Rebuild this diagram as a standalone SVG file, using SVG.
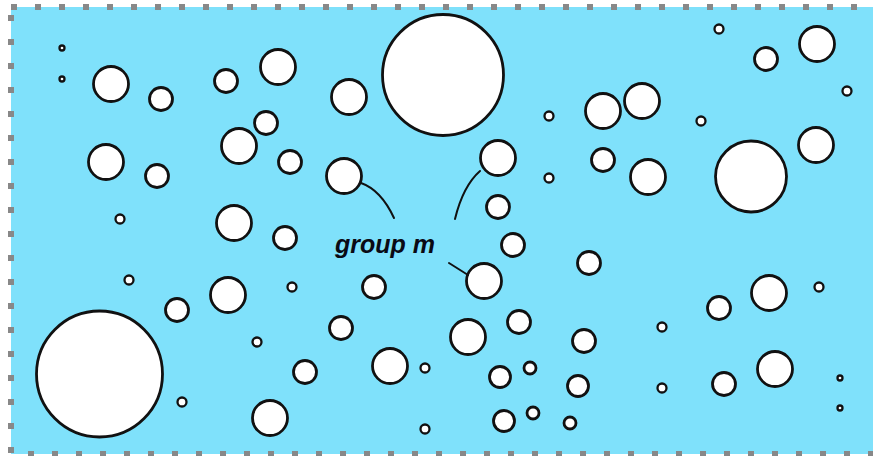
<svg xmlns="http://www.w3.org/2000/svg" width="873" height="456" viewBox="0 0 873 456">
<style>
.bg{fill:#7fe1fb;stroke:#888;stroke-width:6;stroke-dasharray:6 18}
circle{fill:#fff;stroke:#111;stroke-width:2.8}
circle.t{stroke-width:2.3}
.lead{fill:none;stroke:#111;stroke-width:2;stroke-linecap:round}
.lbl{font-family:"Liberation Sans",Arial,sans-serif;font-weight:bold;font-style:italic;font-size:25px;fill:#0a0a14}
</style>
<rect width="873" height="456" fill="#fff"/>
<rect class="bg" x="11" y="7" width="880" height="447"/>
<g id="pores">
<circle class="t" cx="62" cy="48" r="2.5"/>
<circle class="t" cx="62" cy="79" r="2.5"/>
<circle cx="111" cy="84" r="17.5"/>
<circle cx="161" cy="99" r="11.5"/>
<circle cx="106" cy="162" r="17.5"/>
<circle cx="157" cy="176" r="11.5"/>
<circle class="t" cx="120" cy="219" r="4.5"/>
<circle class="t" cx="129" cy="280" r="4.5"/>
<circle cx="177" cy="310" r="11.5"/>
<circle cx="99.5" cy="374" r="63"/>
<circle class="t" cx="182" cy="402" r="4.5"/>
<circle cx="226" cy="81" r="11.5"/>
<circle cx="278" cy="67" r="17.5"/>
<circle cx="266" cy="123" r="11.5"/>
<circle cx="239" cy="146" r="17.5"/>
<circle cx="290" cy="162" r="11.5"/>
<circle cx="234" cy="223" r="17.5"/>
<circle cx="285" cy="238" r="11.5"/>
<circle cx="228" cy="295" r="17.5"/>
<circle class="t" cx="292" cy="287" r="4.5"/>
<circle class="t" cx="257" cy="342" r="4.5"/>
<circle cx="305" cy="372" r="11.5"/>
<circle cx="270" cy="418" r="17.5"/>
<circle cx="349" cy="97" r="17.5"/>
<circle id="m1" cx="344" cy="176" r="17.5"/>
<circle cx="374" cy="287" r="11.5"/>
<circle cx="341" cy="328" r="11.5"/>
<circle cx="390" cy="366" r="17.5"/>
<circle class="t" cx="425" cy="368" r="4.5"/>
<circle class="t" cx="425" cy="429" r="4.5"/>
<circle cx="443" cy="75" r="60.5"/>
<circle id="m2" cx="498" cy="158" r="17.5"/>
<circle cx="498" cy="207" r="11.5"/>
<circle cx="513" cy="245" r="11.5"/>
<circle id="m3" cx="484" cy="281" r="17.5"/>
<circle cx="468" cy="337" r="17.5"/>
<circle cx="519" cy="322" r="11.5"/>
<circle cx="500" cy="377" r="10.5"/>
<circle cx="530" cy="368" r="6"/>
<circle cx="504" cy="421" r="10.5"/>
<circle cx="533" cy="413" r="6"/>
<circle cx="570" cy="423" r="6"/>
<circle cx="578" cy="386" r="10.5"/>
<circle cx="584" cy="341" r="11.5"/>
<circle cx="589" cy="263" r="11.5"/>
<circle class="t" cx="549" cy="116" r="4.5"/>
<circle class="t" cx="549" cy="178" r="4.5"/>
<circle cx="603" cy="111" r="17.5"/>
<circle cx="642" cy="101" r="17.5"/>
<circle cx="603" cy="160" r="11.5"/>
<circle cx="648" cy="177" r="17.5"/>
<circle class="t" cx="662" cy="327" r="4.5"/>
<circle class="t" cx="662" cy="388" r="4.5"/>
<circle class="t" cx="701" cy="121" r="4.5"/>
<circle class="t" cx="719" cy="29" r="4.5"/>
<circle cx="766" cy="59" r="11.5"/>
<circle cx="817" cy="44" r="17.5"/>
<circle class="t" cx="847" cy="91" r="4.5"/>
<circle cx="816" cy="145" r="17.5"/>
<circle cx="751" cy="176.5" r="35.5"/>
<circle cx="769" cy="293" r="17.5"/>
<circle cx="719" cy="308" r="11.5"/>
<circle class="t" cx="819" cy="287" r="4.5"/>
<circle cx="724" cy="384" r="11.5"/>
<circle cx="775" cy="369" r="17.5"/>
<circle class="t" cx="840" cy="378" r="2.5"/>
<circle class="t" cx="840" cy="408" r="2.5"/>
</g>
<g id="connectors">
<path class="lead" d="M361,183 Q381,190 394,218"/>
<path class="lead" d="M480,171 Q463,186 455,219"/>
<path class="lead" d="M449,263 L468,275"/>
</g>
<g id="label">
<text class="lbl" x="385" y="253" text-anchor="middle">group m</text>
</g>
</svg>
